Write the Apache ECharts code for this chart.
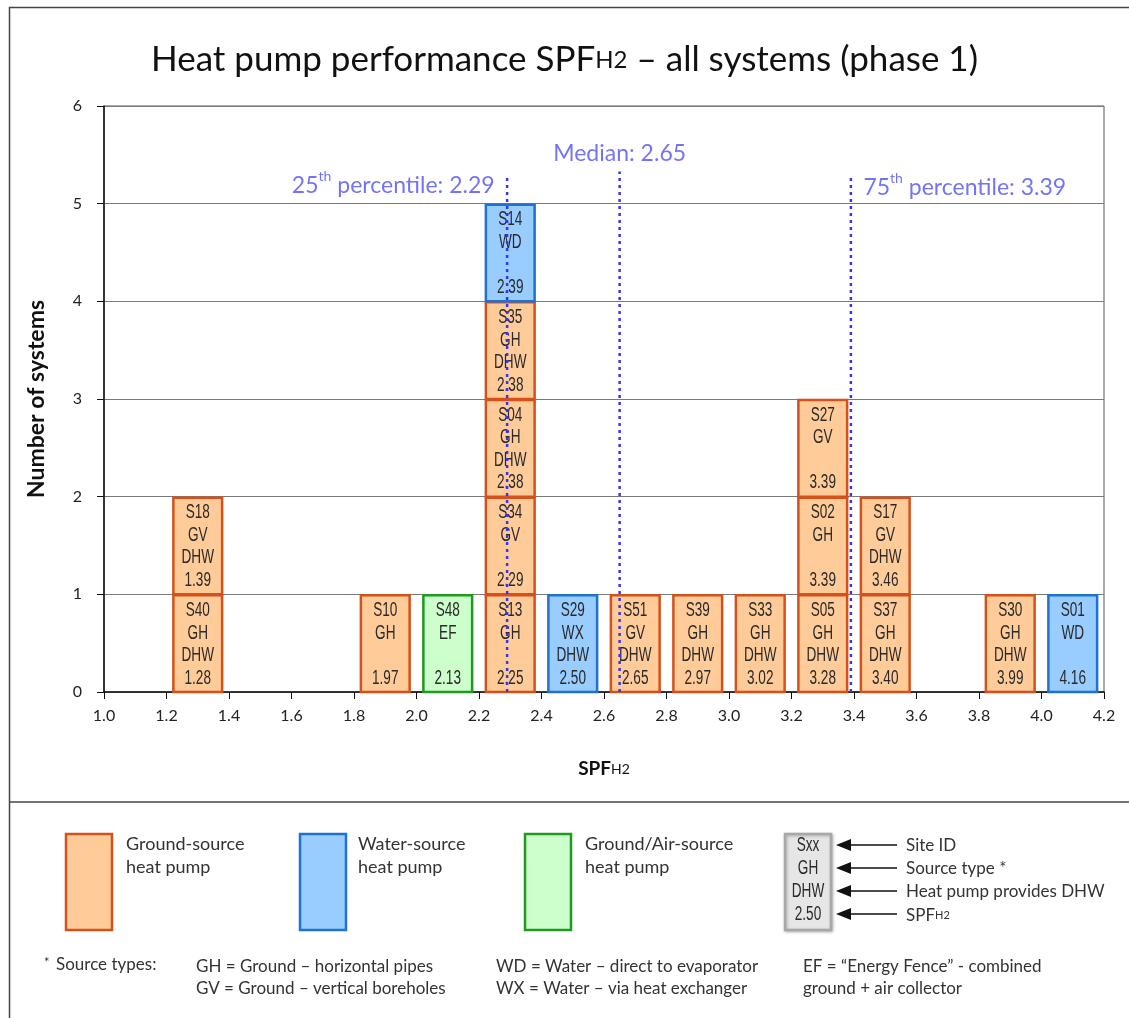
<!DOCTYPE html>
<html>
<head>
<meta charset="utf-8">
<script src="https://cdn.jsdelivr.net/npm/echarts@6/dist/echarts.min.js"></script>
<style>
  html, body { margin: 0; padding: 0; background: #fff; }
  #main { width: 1129px; height: 1018px; }
</style>
</head>
<body>
<div id="main"></div>
<script>
// one entry per system, listed bottom-to-top inside each 0.2 bin
var siteIds = ["S40", "S18", "S10", "S48", "S13", "S34", "S04", "S35", "S14", "S29",
  "S51", "S39", "S33", "S05", "S02", "S27", "S37", "S17", "S30", "S01"];
var sourceTypes = ["GH", "GV", "GH", "EF", "GH", "GV", "GH", "GH", "WD", "WX",
  "GV", "GH", "GH", "GH", "GH", "GV", "GH", "GV", "GH", "WD"];
var providesDhw = [true, true, false, false, false, false, true, true, false, true,
  true, true, true, true, false, false, true, true, true, false];
var spfValues = [1.28, 1.39, 1.97, 2.13, 2.25, 2.29, 2.38, 2.38, 2.39, 2.50,
  2.65, 2.97, 3.02, 3.28, 3.39, 3.39, 3.40, 3.46, 3.99, 4.16];
var pumpTypes = ["ground", "ground", "ground", "groundAir", "ground", "ground", "ground", "ground", "water", "water",
  "ground", "ground", "ground", "ground", "ground", "ground", "ground", "ground", "ground", "water"];

var percentileValues = [2.29, 2.65, 3.39];
var percentileNames = ["25th", "Median", "75th"];

var binWidth = 0.2;
var textFont = "Lato, 'Open Sans', sans-serif";
var boxFont = "'Liberation Sans', Arial, sans-serif";
var lineBlue = "#3636f0";
var labelBlue = "#5050f5";

var colors = {
  ground: { fill: "#ffcc99", stroke: "#d4511c" },
  water: { fill: "#99ccff", stroke: "#1f72d0" },
  groundAir: { fill: "#ccffcc", stroke: "#1f9a1f" }
};

// stack the systems in their bins
var binCount = {};
var boxData = [];
for (var i = 0; i < spfValues.length; i++) {
  var b = Math.floor(spfValues[i] / binWidth + 1e-9);
  var lvl = binCount[b] || 0;
  binCount[b] = lvl + 1;
  boxData.push([(b + 0.5) * binWidth, lvl, i]);
}

var myChart = echarts.init(document.getElementById("main"));

function boxRender(params, api) {
  var c = api.value(0), lvl = api.value(1), idx = api.value(2);
  var half = binWidth * 0.39;
  var p0 = api.coord([c - half, lvl + 1]);
  var p1 = api.coord([c + half, lvl]);
  var col = colors[pumpTypes[idx]];
  var lines = [siteIds[idx], sourceTypes[idx], providesDhw[idx] ? "DHW" : "", spfValues[idx].toFixed(2)];
  return {
    type: "group",
    children: [
      {
        type: "rect",
        shape: { x: p0[0], y: p0[1] + 1, width: p1[0] - p0[0], height: p1[1] - p0[1] - 1 },
        style: { fill: col.fill, stroke: col.stroke, lineWidth: 2.5 }
      },
      {
        type: "text",
        x: (p0[0] + p1[0]) / 2,
        y: p0[1] + 5,
        scaleX: 0.68,
        style: {
          text: lines.join("\n"),
          fontFamily: boxFont,
          fontSize: 20,
          lineHeight: 22.5,
          fill: "#2a2a2a",
          align: "center",
          verticalAlign: "top"
        }
      }
    ]
  };
}

var series = [
  {
    type: "custom",
    renderItem: boxRender,
    data: boxData,
    encode: { x: 0, y: 1 },
    z: 2
  }
];

var labelPos = ["left", "top", "right"];
var tops = [5.3, 5.33, 5.28];
percentileValues.forEach(function (v, k) {
  series.push({
    type: "line",
    data: [[v, 0], [v, tops[k]]],
    symbol: "none",
    lineStyle: { color: lineBlue, width: 2.5, type: [3, 4] },
    z: 5,
    silent: true
  });
  var txt = k === 1
    ? "{n|" + percentileNames[k] + ": " + v.toFixed(2) + "}"
    : "{n|" + percentileNames[k].slice(0, 2) + "}{sup|" + percentileNames[k].slice(2) + "}{n| percentile: " + v.toFixed(2) + "}";
  series.push({
    type: "scatter",
    data: [[v, tops[k]]],
    symbolSize: 1,
    itemStyle: { color: "rgba(0,0,0,0)" },
    z: 6,
    label: {
      show: true,
      position: labelPos[k],
      distance: k === 1 ? 6 : 12,
      offset: k === 1 ? [0, 0] : [0, 9],
      formatter: txt,
      rich: {
        n: { fontFamily: textFont, fontSize: 23, color: labelBlue, lineHeight: 27, verticalAlign: "bottom" },
        sup: { fontFamily: textFont, fontSize: 14, color: labelBlue, lineHeight: 27, verticalAlign: "top", padding: [0, 0, 9, 0] }
      }
    }
  });
});

function arrow(y) {
  return [
    { type: "line", shape: { x1: 848, y1: y, x2: 897, y2: y }, style: { stroke: "#111", lineWidth: 1.5 } },
    { type: "polygon", shape: { points: [[836, y], [851, y - 6], [851, y + 6]] }, style: { fill: "#111" } }
  ];
}

var legendFont = "18px " + textFont;
var noteFont = "17px " + textFont;
var graphic = [
  { type: "rect", shape: { x: 9.5, y: 7.5, width: 1130, height: 1020 }, style: { fill: "none", stroke: "#444", lineWidth: 1.5 }, z: -1 },
  { type: "line", shape: { x1: 9, y1: 802, x2: 1129, y2: 802 }, style: { stroke: "#444", lineWidth: 1.5 } },

  { type: "rect", shape: { x: 66, y: 834, width: 46, height: 96 }, style: { fill: colors.ground.fill, stroke: colors.ground.stroke, lineWidth: 2.5 } },
  { type: "text", x: 126, y: 833, style: { text: "Ground-source\nheat pump", font: legendFont, lineHeight: 23, fill: "#333" } },
  { type: "rect", shape: { x: 300, y: 834, width: 46, height: 96 }, style: { fill: colors.water.fill, stroke: colors.water.stroke, lineWidth: 2.5 } },
  { type: "text", x: 358, y: 833, style: { text: "Water-source\nheat pump", font: legendFont, lineHeight: 23, fill: "#333" } },
  { type: "rect", shape: { x: 525, y: 834, width: 46, height: 96 }, style: { fill: colors.groundAir.fill, stroke: colors.groundAir.stroke, lineWidth: 2.5 } },
  { type: "text", x: 585, y: 833, style: { text: "Ground/Air-source\nheat pump", font: legendFont, lineHeight: 23, fill: "#333" } },

  { type: "rect", shape: { x: 785, y: 834, width: 46, height: 96 }, style: { fill: "#e6e6e6", stroke: "#a8a8a8", lineWidth: 2.5, shadowBlur: 3, shadowColor: "rgba(0,0,0,0.25)", shadowOffsetX: 1, shadowOffsetY: 1 } },
  { type: "text", x: 808, y: 834, scaleX: 0.68, style: { text: "Sxx\nGH\nDHW\n2.50", fontFamily: boxFont, fontSize: 20, lineHeight: 23, fill: "#2a2a2a", align: "center" } },
  { type: "text", x: 906, y: 834, style: { text: "Site ID\nSource type *\nHeat pump provides DHW", font: "17px " + textFont, lineHeight: 23, fill: "#333" } },
  {
    type: "text", x: 906, y: 903,
    style: {
      text: "{n|SPF}{s|H2}",
      rich: {
        n: { fontFamily: textFont, fontSize: 17, fill: "#333", lineHeight: 21, verticalAlign: "bottom" },
        s: { fontFamily: textFont, fontSize: 11, fill: "#333", lineHeight: 21, verticalAlign: "bottom", padding: [0, 0, 3, 0] }
      }
    }
  },

  { type: "text", x: 44, y: 956, style: { text: "*", fontFamily: textFont, fontSize: 13, fill: "#333" } },
  { type: "text", x: 56, y: 956, style: { text: "Source types:", font: noteFont, fill: "#333" } },
  { type: "text", x: 196, y: 956, style: { text: "GH = Ground – horizontal pipes\nGV = Ground – vertical boreholes", font: noteFont, lineHeight: 22, fill: "#333" } },
  { type: "text", x: 496, y: 956, style: { text: "WD = Water – direct to evaporator\nWX = Water – via heat exchanger", font: noteFont, lineHeight: 22, fill: "#333" } },
  { type: "text", x: 803, y: 956, style: { text: "EF = “Energy Fence” - combined\nground + air collector", font: noteFont, lineHeight: 22, fill: "#333" } }
];
[845, 868, 891, 914].forEach(function (y) { graphic = graphic.concat(arrow(y)); });

myChart.setOption({
  animation: false,
  title: {
    text: "{a|Heat pump performance SPF}{s|H2}{a| – all systems (phase 1)}",
    left: "center",
    top: 26,
    textStyle: {
      fontWeight: "normal",
      rich: {
        a: { fontFamily: textFont, fontSize: 35, fontWeight: "normal", color: "#111", lineHeight: 46, verticalAlign: "bottom" },
        s: { fontFamily: textFont, fontSize: 24, fontWeight: "normal", color: "#111", lineHeight: 46, verticalAlign: "bottom", padding: [0, 0, 5, 0] }
      }
    }
  },
  grid: {
    left: 104, right: 25, top: 106, bottom: 326,
    show: true, borderColor: "#555", borderWidth: 1
  },
  xAxis: {
    type: "value",
    min: 1.0,
    max: 4.2,
    interval: 0.2,
    name: "{b|SPF}{s|H2}",
    nameLocation: "middle",
    nameGap: 64,
    nameTextStyle: {
      rich: {
        b: { fontFamily: textFont, fontSize: 19, fontWeight: "bold", color: "#111", lineHeight: 22, verticalAlign: "bottom" },
        s: { fontFamily: textFont, fontSize: 14, fontWeight: "normal", color: "#111", lineHeight: 22, verticalAlign: "bottom", padding: [0, 0, 2, 0] }
      }
    },
    axisLine: { show: true, lineStyle: { color: "#111", width: 1.5 } },
    axisTick: { show: true, length: 7, lineStyle: { color: "#111" } },
    axisLabel: {
      margin: 16,
      fontFamily: textFont,
      fontSize: 16,
      color: "#222",
      formatter: function (v) { return v.toFixed(1); }
    },
    splitLine: { show: false }
  },
  yAxis: {
    type: "value",
    min: 0,
    max: 6,
    interval: 1,
    name: "Number of systems",
    nameLocation: "middle",
    nameGap: 56,
    nameTextStyle: { fontFamily: textFont, fontSize: 23, fontWeight: "bold", color: "#111" },
    axisLine: { show: true, lineStyle: { color: "#111", width: 1.5 } },
    axisTick: { show: true, length: 7, lineStyle: { color: "#111" } },
    axisLabel: { margin: 22, fontFamily: textFont, fontSize: 16, color: "#222" },
    splitLine: { show: true, lineStyle: { color: "#7a7a7a", width: 1 } }
  },
  graphic: graphic,
  series: series
});
</script>
</body>
</html>
